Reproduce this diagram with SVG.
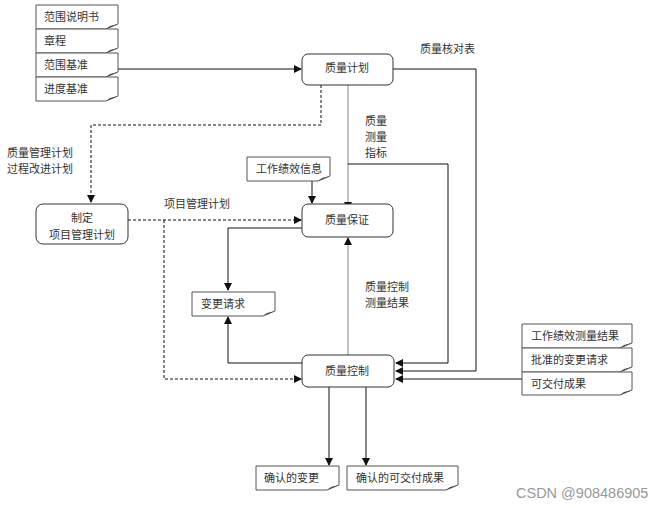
<svg xmlns="http://www.w3.org/2000/svg" width="667" height="508" viewBox="0 0 667 508">
<style>
text{font-family:"Noto Sans CJK SC","Liberation Sans",sans-serif;font-size:11px;fill:#333}
.doc{fill:#fff;stroke:#555;stroke-width:1}
.fold{fill:#444;stroke:none}
.box{fill:#fff;stroke:#333;stroke-width:1}
.ln{fill:none;stroke:#111;stroke-width:1}
.gl{fill:none;stroke:#999;stroke-width:1.2}
.dl{fill:none;stroke:#111;stroke-width:1;stroke-dasharray:3,2}
.c{text-anchor:middle}
</style>
<defs>
<marker id="ah" markerWidth="8" markerHeight="8" refX="7" refY="4" orient="auto" markerUnits="userSpaceOnUse">
<path d="M0,0 L8,4 L0,8 z" fill="#111"/>
</marker>
</defs>
<g id="connectors">
<path class="ln" d="M118,69 H301" stroke="#666" marker-end="url(#ah)"/>
<path class="ln" d="M393,69 H476 V371 H396" marker-end="url(#ah)"/>
<path class="gl" d="M348,85 V209" marker-end="url(#ah)"/>
<path class="ln" d="M348,164 H448 V363 H396" marker-end="url(#ah)"/>
<path class="dl" d="M321,85 V125 H91 V202" marker-end="url(#ah)"/>
<path class="dl" d="M128,220 H301" marker-end="url(#ah)"/>
<path class="dl" d="M164,220 V379 H301" marker-end="url(#ah)"/>
<path class="ln" d="M312,181 V203" marker-end="url(#ah)"/>
<path class="ln" d="M302,228 H228 V290" stroke="#333" marker-end="url(#ah)"/>
<path class="ln" d="M302,363 H228 V317" stroke="#333" marker-end="url(#ah)"/>
<path class="gl" d="M348,355 V238" marker-end="url(#ah)"/>
<path class="ln" d="M329,387 V465" stroke="#333" marker-end="url(#ah)"/>
<path class="ln" d="M366,387 V465" stroke="#333" marker-end="url(#ah)"/>
<path class="ln" d="M522,379 H396" marker-end="url(#ah)"/>
</g>
<g id="doc-scope">
<path class="doc" d="M36,5 H118 V24 L106,29 H36 Z"/><path class="fold" d="M106,29 L118,24 L110,26 Z"/>
<text x="44" y="21">范围说明书</text>
</g>
<g id="doc-charter">
<path class="doc" d="M36,29 H118 V48 L106,53 H36 Z"/><path class="fold" d="M106,53 L118,48 L110,50 Z"/>
<text x="44" y="45">章程</text>
</g>
<g id="doc-baseline">
<path class="doc" d="M36,53 H118 V72 L106,77 H36 Z"/><path class="fold" d="M106,77 L118,72 L110,74 Z"/>
<text x="44" y="69">范围基准</text>
</g>
<g id="doc-schedule">
<path class="doc" d="M36,77 H118 V96 L106,101 H36 Z"/><path class="fold" d="M106,101 L118,96 L110,98 Z"/>
<text x="44" y="93">进度基准</text>
</g>
<g id="plan">
<rect class="box" x="302" y="54" width="91" height="31" rx="6"/>
<text class="c" x="347" y="72">质量计划</text>
</g>
<g id="labels">
<text x="420" y="53">质量核对表</text>
<text x="365" y="125">质量</text>
<text x="365" y="141">测量</text>
<text x="365" y="157">指标</text>
<text x="7" y="157">质量管理计划</text>
<text x="7" y="173">过程改进计划</text>
<text x="164" y="208">项目管理计划</text>
<text x="365" y="291">质量控制</text>
<text x="365" y="307">测量结果</text>
</g>
<g id="develop">
<rect class="box" x="36" y="204" width="92" height="40" rx="7"/>
<text class="c" x="82" y="222">制定</text>
<text class="c" x="82" y="239">项目管理计划</text>
</g>
<g id="doc-workinfo">
<path class="doc" d="M247,157 H330 V176 L318,181 H247 Z"/><path class="fold" d="M318,181 L330,176 L322,178 Z"/>
<text x="256" y="173">工作绩效信息</text>
</g>
<g id="assurance">
<rect class="box" x="302" y="204" width="91" height="33" rx="6"/>
<text class="c" x="347" y="224">质量保证</text>
</g>
<g id="doc-change">
<path class="doc" d="M192,292 H275 V311 L263,316 H192 Z"/><path class="fold" d="M263,316 L275,311 L267,313 Z"/>
<text x="201" y="308">变更请求</text>
</g>
<g id="control">
<rect class="box" x="302" y="355" width="92" height="32" rx="6"/>
<text class="c" x="347" y="375">质量控制</text>
</g>
<g id="doc-workresult">
<path class="doc" d="M522,324 H632 V343 L620,348 H522 Z"/><path class="fold" d="M620,348 L632,343 L624,345 Z"/>
<text x="531" y="340">工作绩效测量结果</text>
</g>
<g id="doc-approved">
<path class="doc" d="M522,348 H632 V367 L620,372 H522 Z"/><path class="fold" d="M620,372 L632,367 L624,369 Z"/>
<text x="531" y="364">批准的变更请求</text>
</g>
<g id="doc-deliverable">
<path class="doc" d="M522,372 H632 V390 L620,395 H522 Z"/><path class="fold" d="M620,395 L632,390 L624,392 Z"/>
<text x="531" y="388">可交付成果</text>
</g>
<g id="doc-vchange">
<path class="doc" d="M256,466 H339 V485 L327,490 H256 Z"/><path class="fold" d="M327,490 L339,485 L331,487 Z"/>
<text x="264" y="482">确认的变更</text>
</g>
<g id="doc-vdeliv">
<path class="doc" d="M347,466 H458 V485 L446,490 H347 Z"/><path class="fold" d="M446,490 L458,485 L450,487 Z"/>
<text x="356" y="482">确认的可交付成果</text>
</g>
<text x="516" y="498" style="font-family:'Liberation Sans',sans-serif;font-size:14.5px;fill:#999">CSDN @908486905</text>
</svg>
